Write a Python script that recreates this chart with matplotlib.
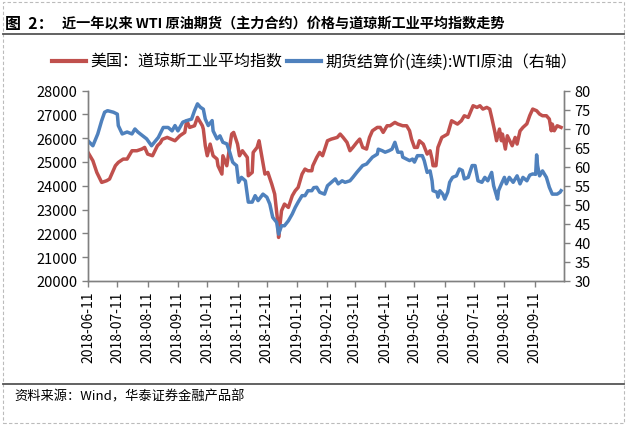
import matplotlib
matplotlib.use('Agg')
import matplotlib.pyplot as plt
import matplotlib.dates as mdates
import pandas as pd
from matplotlib.lines import Line2D
from matplotlib.patches import Rectangle

plt.rcParams['font.family'] = ['Noto Sans CJK SC', 'DejaVu Sans']
plt.rcParams['axes.unicode_minus'] = False

# 道琼斯工业平均指数（左轴）
dji_dates = [
    '2018-06-11', '2018-06-16', '2018-06-20', '2018-06-25', '2018-06-30', '2018-07-03',
    '2018-07-09', '2018-07-12', '2018-07-17', '2018-07-21', '2018-07-26', '2018-07-31',
    '2018-08-05', '2018-08-08', '2018-08-11', '2018-08-16', '2018-08-21', '2018-08-24',
    '2018-08-26', '2018-08-31', '2018-09-08', '2018-09-13', '2018-09-18', '2018-09-20',
    '2018-09-23', '2018-09-28', '2018-10-01', '2018-10-06', '2018-10-07', '2018-10-09',
    '2018-10-11', '2018-10-14', '2018-10-17', '2018-10-21', '2018-10-22', '2018-10-26',
    '2018-10-27', '2018-10-31', '2018-11-05', '2018-11-07', '2018-11-11', '2018-11-13',
    '2018-11-16', '2018-11-21', '2018-11-22', '2018-11-26', '2018-11-27', '2018-12-01',
    '2018-12-03', '2018-12-06', '2018-12-09', '2018-12-12', '2018-12-16', '2018-12-19',
    '2018-12-22', '2018-12-23', '2018-12-26', '2018-12-29', '2019-01-02', '2019-01-06',
    '2019-01-09', '2019-01-12', '2019-01-16', '2019-01-19', '2019-01-22', '2019-01-26',
    '2019-01-27', '2019-01-31', '2019-02-03', '2019-02-06', '2019-02-11', '2019-02-15',
    '2019-02-21', '2019-02-24', '2019-02-27', '2019-03-03', '2019-03-06', '2019-03-09',
    '2019-03-13', '2019-03-16', '2019-03-19', '2019-03-23', '2019-03-26', '2019-03-29',
    '2019-04-03', '2019-04-06', '2019-04-09', '2019-04-13', '2019-04-16', '2019-04-21',
    '2019-04-24', '2019-04-29', '2019-05-03', '2019-05-06', '2019-05-08', '2019-05-11',
    '2019-05-14', '2019-05-16', '2019-05-20', '2019-05-24', '2019-05-27', '2019-05-29',
    '2019-05-30', '2019-06-02', '2019-06-04', '2019-06-08', '2019-06-11', '2019-06-14',
    '2019-06-18', '2019-06-21', '2019-06-24', '2019-06-28', '2019-07-01', '2019-07-05',
    '2019-07-10', '2019-07-14', '2019-07-17', '2019-07-20', '2019-07-24', '2019-07-27',
    '2019-07-29', '2019-08-01', '2019-08-03', '2019-08-06', '2019-08-08', '2019-08-09',
    '2019-08-12', '2019-08-14', '2019-08-19', '2019-08-22', '2019-08-24', '2019-08-27',
    '2019-08-30', '2019-09-03', '2019-09-06', '2019-09-09', '2019-09-13', '2019-09-16',
    '2019-09-19', '2019-09-23', '2019-09-26', '2019-09-28', '2019-09-29', '2019-10-01',
    '2019-10-04', '2019-10-08',
]
dji_values = [
    25400, 25050, 24560, 24140, 24210, 24280,
    24840, 24980, 25120, 25120, 25470, 25470,
    25540, 25610, 25330, 25260, 25680, 25800,
    25950, 26030, 25890, 26100, 26240, 26730,
    26450, 26520, 26870, 26520, 26380, 25680,
    25260, 25750, 25260, 25120, 24840, 24490,
    25260, 24840, 26170, 26240, 25750, 25260,
    25470, 25190, 24420, 24560, 25400, 25610,
    25890, 25190, 24490, 24560, 24070, 23650,
    22530, 21830, 22950, 23230, 23090, 23580,
    23790, 23930, 24490, 24700, 24630, 24630,
    24840, 25190, 25400, 25260, 25890, 25960,
    26030, 26170, 26030, 25820, 25470, 25610,
    25820, 25960, 25610, 25540, 26030, 26310,
    26450, 26450, 26240, 26520, 26520, 26660,
    26590, 26520, 26520, 26310, 25960, 25610,
    25610, 25890, 25750, 25330, 25470, 25120,
    24840, 24840, 25610, 26030, 26100, 26170,
    26730, 26660, 26590, 26730, 26940, 26870,
    27360, 27290, 27360, 27220, 27290, 27220,
    26870, 26310, 25890, 26380, 25890, 26170,
    25540, 26100, 25680, 26030, 25750, 26300,
    26450, 26600, 26950, 27220, 27150, 27010,
    26940, 26940, 26800, 26310, 26590, 26310,
    26520, 26450,
]

# 期货结算价(连续):WTI原油（右轴）
wti_dates = [
    '2018-06-11', '2018-06-16', '2018-06-21', '2018-06-25', '2018-06-28', '2018-07-01',
    '2018-07-07', '2018-07-11', '2018-07-12', '2018-07-16', '2018-07-21', '2018-07-26',
    '2018-07-29', '2018-08-01', '2018-08-06', '2018-08-10', '2018-08-15', '2018-08-22',
    '2018-08-27', '2018-09-01', '2018-09-05', '2018-09-08', '2018-09-11', '2018-09-16',
    '2018-09-20', '2018-09-25', '2018-09-28', '2018-10-01', '2018-10-04', '2018-10-07',
    '2018-10-09', '2018-10-12', '2018-10-16', '2018-10-17', '2018-10-21', '2018-10-24',
    '2018-10-27', '2018-10-31', '2018-11-03', '2018-11-06', '2018-11-08', '2018-11-10',
    '2018-11-12', '2018-11-15', '2018-11-19', '2018-11-22', '2018-11-26', '2018-11-29',
    '2018-12-02', '2018-12-07', '2018-12-11', '2018-12-14', '2018-12-17', '2018-12-21',
    '2018-12-23', '2018-12-26', '2018-12-29', '2019-01-02', '2019-01-06', '2019-01-09',
    '2019-01-12', '2019-01-16', '2019-01-19', '2019-01-22', '2019-01-26', '2019-01-28',
    '2019-01-31', '2019-02-03', '2019-02-08', '2019-02-11', '2019-02-15', '2019-02-19',
    '2019-02-22', '2019-02-26', '2019-03-01', '2019-03-06', '2019-03-09', '2019-03-13',
    '2019-03-16', '2019-03-19', '2019-03-23', '2019-03-26', '2019-03-29', '2019-04-03',
    '2019-04-04', '2019-04-08', '2019-04-11', '2019-04-15', '2019-04-18', '2019-04-21',
    '2019-04-24', '2019-04-28', '2019-04-29', '2019-05-03', '2019-05-06', '2019-05-09',
    '2019-05-11', '2019-05-14', '2019-05-19', '2019-05-21', '2019-05-24', '2019-05-27',
    '2019-05-29', '2019-05-30', '2019-06-03', '2019-06-04', '2019-06-06', '2019-06-09',
    '2019-06-11', '2019-06-14', '2019-06-16', '2019-06-19', '2019-06-23', '2019-06-26',
    '2019-06-29', '2019-07-01', '2019-07-05', '2019-07-09', '2019-07-12', '2019-07-15',
    '2019-07-19', '2019-07-22', '2019-07-25', '2019-07-29', '2019-07-31', '2019-08-04',
    '2019-08-05', '2019-08-08', '2019-08-11', '2019-08-13', '2019-08-16', '2019-08-20',
    '2019-08-24', '2019-08-27', '2019-08-30', '2019-09-03', '2019-09-06', '2019-09-09',
    '2019-09-12', '2019-09-13', '2019-09-14', '2019-09-16', '2019-09-19', '2019-09-23',
    '2019-09-26', '2019-09-29', '2019-10-04', '2019-10-07', '2019-10-08',
]
wti_values = [
    66.8, 65.5, 68.6, 72.1, 74.3, 74.7,
    74.3, 73.8, 70.8, 68.6, 69.1, 68.6,
    69.9, 69.1, 68.1, 67.3, 65.5, 67.7,
    70.3, 70.3, 69.4, 70.8, 69.4, 71.7,
    72.1, 72.5, 74.7, 76.5, 75.6, 75.1,
    72.5, 70.8, 72.1, 69.4, 67.3, 68.1,
    66.4, 66.0, 63.8, 61.2, 60.7, 60.3,
    55.9, 57.2, 56.3, 50.7, 50.7, 52.4,
    51.1, 52.8, 52.0, 50.2, 46.7, 45.4,
    42.3, 44.5, 44.5, 45.8, 47.6, 49.3,
    50.7, 52.4, 52.4, 53.7, 53.7, 54.5,
    54.6, 53.3, 52.8, 55.0, 55.9, 56.8,
    55.5, 56.3, 55.9, 56.3, 57.2, 58.5,
    59.4, 60.3, 60.7, 61.6, 62.5, 63.3,
    64.6, 64.2, 63.8, 64.2, 64.6, 66.4,
    63.8, 63.8, 62.5, 62.0, 61.6, 62.0,
    61.2, 62.9, 62.9, 61.6, 58.5, 58.9,
    56.3, 53.7, 53.3, 52.0, 53.7, 52.8,
    51.5, 53.3, 55.9, 57.2, 57.6, 59.4,
    59.0, 56.8, 57.2, 60.3, 60.3, 56.3,
    55.9, 57.2, 56.3, 58.5, 55.0, 51.5,
    53.7, 55.5, 57.2, 55.5, 57.2, 55.9,
    57.6, 55.5, 57.2, 56.3, 57.8, 58.1,
    58.0, 63.1, 60.3, 57.6, 58.9, 57.2,
    54.6, 52.8, 52.8, 53.3, 53.7,
]

# 每月 11 日一个刻度
tick_dates = pd.date_range('2018-06-01', '2019-09-01', freq='MS') + pd.Timedelta(days=10)

red = '#C0504D'
blue = '#4F81BD'
grey = '#808080'

fig = plt.figure(figsize=(6.27, 4.27), dpi=100)
W, H = 627.0, 427.0

ax = fig.add_axes([88 / W, 1 - 282 / H, (564 - 88) / W, (282 - 91.5) / H])
ax2 = ax.twinx()

ax.plot(pd.to_datetime(dji_dates), dji_values, color=red, lw=2.5, solid_joinstyle='round')
ax2.plot(pd.to_datetime(wti_dates), wti_values, color=blue, lw=2.5, solid_joinstyle='round')

ax.set_ylim(20000, 28000)
ax.set_yticks(range(20000, 28001, 1000))
ax2.set_ylim(30, 80)
ax2.set_yticks(range(30, 81, 5))
ax.set_xlim(pd.Timestamp('2018-06-11'), pd.Timestamp('2019-10-11'))
ax.set_xticks(tick_dates)
ax.xaxis.set_major_formatter(mdates.DateFormatter('%Y-%m-%d'))

for a in (ax, ax2):
    a.spines['top'].set_visible(False)
    for s in ('left', 'right', 'bottom'):
        a.spines[s].set_color(grey)
        a.spines[s].set_linewidth(1.0)
    a.tick_params(colors=grey, labelcolor='black', labelsize=10.5, length=4, width=1.0, direction='out')
ax.tick_params(axis='x', labelrotation=90, pad=3, labelsize=10)

# 标题
fig.text(5 / W, 1 - 24 / H, '图  2：', fontsize=11.5, weight='bold', va='center', ha='left')
fig.text(62 / W, 1 - 24 / H, '近一年以来 WTI 原油期货（主力合约）价格与道琼斯工业平均指数走势',
         fontsize=10.2, weight='bold', va='center', ha='left')
fig.add_artist(Line2D([3 / W, 624 / W], [1 - 34.5 / H, 1 - 34.5 / H], color='#555555', lw=1.3))

# 图例
fig.add_artist(Line2D([52 / W, 86 / W], [1 - 62 / H] * 2, color=red, lw=3))
fig.text(90 / W, 1 - 62 / H, '美国：道琼斯工业平均指数', fontsize=11.5, va='center', ha='left')
fig.add_artist(Line2D([287 / W, 321 / W], [1 - 62 / H] * 2, color=blue, lw=3))
fig.text(325 / W, 1 - 62 / H, '期货结算价(连续):WTI原油（右轴）', fontsize=11.5, va='center', ha='left')

# 资料来源
fig.add_artist(Line2D([3 / W, 624 / W], [1 - 385 / H, 1 - 385 / H], color='#555555', lw=1.3))
fig.text(14 / W, 1 - 397 / H, '资料来源：Wind，华泰证券金融产品部', fontsize=9.5, style='italic',
         va='center', ha='left')

fig.add_artist(Rectangle((3 / W, 3 / H), 621 / W, 421 / H, transform=fig.transFigure,
                         fill=False, edgecolor='#bbbbbb', lw=0.8, ls=(0, (3, 2))))

fig.savefig('out.png', dpi=100)
